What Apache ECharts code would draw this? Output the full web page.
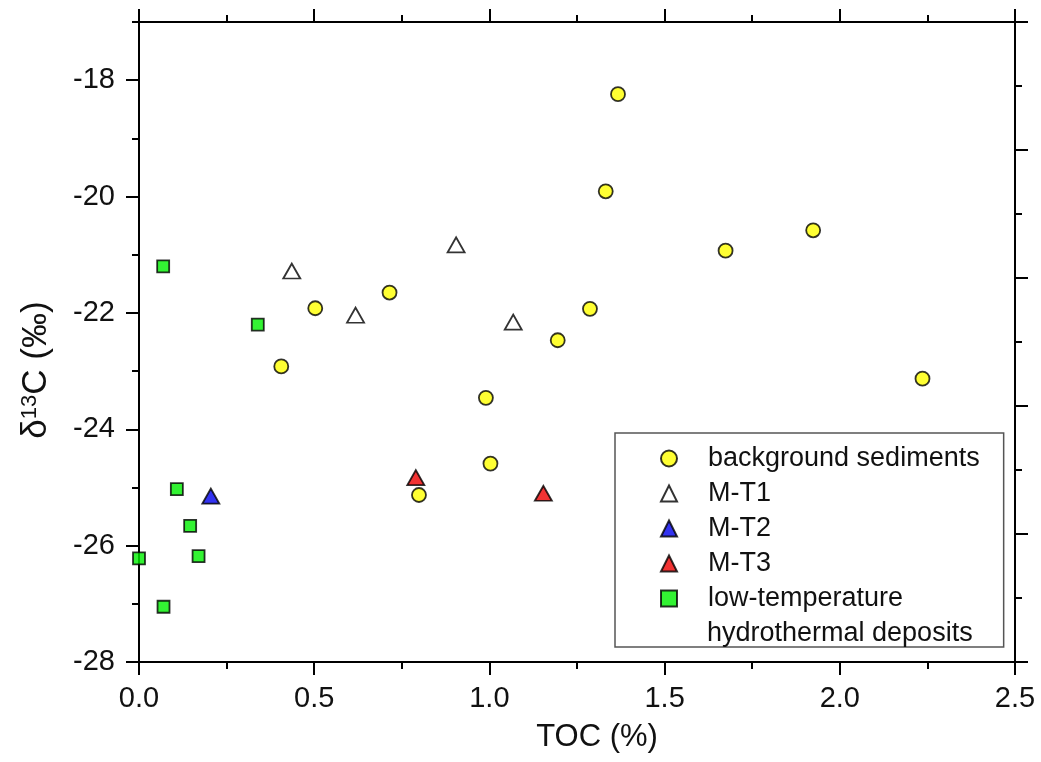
<!DOCTYPE html>
<html>
<head>
<meta charset="utf-8">
<script src="https://cdn.jsdelivr.net/npm/echarts@6/dist/echarts.min.js"></script>
<style>
	html, body { margin: 0; padding: 0; background: #fff; }
	#chart { width: 1041px; height: 762px; }
</style>
</head>
<body>
<div id="chart"></div>
<script>
// background sediments
var bgX = [0.406, 0.503, 0.715, 0.799, 0.990, 1.003, 1.195, 1.287, 1.332, 1.367, 1.674, 1.924, 2.236];
var bgY = [-22.92, -21.92, -21.65, -25.13, -23.46, -24.59, -22.47, -21.93, -19.91, -18.24, -20.93, -20.58, -23.13];
// M-T1, M-T2, M-T3
var mt1X = [0.436, 0.618, 0.905, 1.068];
var mt1Y = [-21.28, -22.04, -20.83, -22.16];
var mt2X = [0.205];
var mt2Y = [-25.15];
var mt3X = [0.790, 1.154];
var mt3Y = [-24.83, -25.10];
// low-temperature hydrothermal deposits
var lowX = [0.069, 0.339, 0.108, 0.146, 0.170, 0.000, 0.070];
var lowY = [-21.20, -22.20, -25.03, -25.66, -26.18, -26.22, -27.05];

var yMajor = [-28, -26, -24, -22, -20, -18];
var yMinor = [-27, -25, -23, -21, -19, -17];
var seriesNames = ['background sediments', 'M-T1', 'M-T2', 'M-T3', 'low-temperature'];

function pairs(xs, ys) {
	return xs.map(function(x, i) {
		return [x, ys[i]];
	});
}

var font = "'Liberation Sans', Arial, sans-serif";
var lineStyle = { color: '#000', width: 2 };

var chart = echarts.init(document.getElementById('chart'));
chart.setOption({
	backgroundColor: '#fff',
	animation: false,
	grid: { left: 139, right: 26, top: 22, bottom: 100 },
	legend: {
		orient: 'vertical',
		left: 615,
		top: 433,
		padding: [12, 24, 35, 45],
		itemWidth: 16,
		itemHeight: 16,
		itemGap: 8,
		borderColor: '#555',
		borderWidth: 1.5,
		backgroundColor: '#fff',
		textStyle: { fontFamily: font, fontSize: 27, color: '#111', padding: [0, 0, 0, 26] },
		data: seriesNames
	},
	xAxis: [{
		type: 'value',
		position: 'bottom',
		min: 0,
		max: 2.5,
		interval: 0.5,
		name: 'TOC (%)',
		nameLocation: 'middle',
		nameGap: 60,
		nameTextStyle: { fontFamily: font, fontSize: 31, color: '#111', padding: [0, 0, 0, 40] },
		axisLine: { onZero: false, lineStyle: lineStyle },
		axisTick: { length: 13, lineStyle: lineStyle },
		minorTick: { show: true, splitNumber: 2, length: 7, lineStyle: lineStyle },
		axisLabel: {
			margin: 22,
			fontFamily: font,
			fontSize: 29,
			color: '#111',
			formatter: function(v) {
				return v.toFixed(1);
			}
		},
		splitLine: { show: false }
	}, {
		type: 'value',
		position: 'top',
		min: 0,
		max: 2.5,
		interval: 0.5,
		axisLine: { onZero: false, lineStyle: lineStyle },
		axisTick: { length: 13, lineStyle: lineStyle },
		minorTick: { show: true, splitNumber: 2, length: 7, lineStyle: lineStyle },
		axisLabel: { show: false },
		splitLine: { show: false }
	}],
	yAxis: [{
		type: 'value',
		position: 'left',
		min: -28,
		max: -17,
		interval: 2,
		axisLine: { onZero: false, lineStyle: lineStyle },
		axisTick: { length: 13, customValues: yMajor, lineStyle: lineStyle },
		axisLabel: {
			margin: 24,
			fontFamily: font,
			fontSize: 29,
			color: '#111',
			customValues: yMajor,
			formatter: function(v) {
				return v === -17 ? '' : v;
			}
		},
		splitLine: { show: false }
	}, {
		type: 'value',
		position: 'left',
		min: -28,
		max: -17,
		interval: 1,
		axisLine: { show: false, onZero: false },
		axisTick: { length: 7, customValues: yMinor, lineStyle: lineStyle },
		axisLabel: { show: false },
		splitLine: { show: false }
	}, {
		type: 'value',
		position: 'right',
		min: 0,
		max: 10,
		interval: 2,
		axisLine: { onZero: false, lineStyle: lineStyle },
		axisTick: { length: 13, lineStyle: lineStyle },
		minorTick: { show: true, splitNumber: 2, length: 7, lineStyle: lineStyle },
		axisLabel: { show: false },
		splitLine: { show: false }
	}],
	graphic: [{
		type: 'text',
		x: 36,
		y: 370,
		rotation: Math.PI / 2,
		style: {
			text: 'δ{sup|13}C (‰)',
			fontFamily: font,
			fontSize: 35,
			fill: '#111',
			align: 'center',
			verticalAlign: 'middle',
			rich: {
				sup: { fontFamily: font, fontSize: 22, verticalAlign: 'top', padding: [0, 0, 13, 0] }
			}
		}
	}, {
		type: 'text',
		left: 707,
		top: 620,
		z: 100,
		style: {
			text: 'hydrothermal deposits',
			fontFamily: font,
			fontSize: 27,
			fill: '#111'
		}
	}],
	series: [{
		name: seriesNames[0],
		type: 'scatter',
		symbol: 'circle',
		symbolSize: 14,
		itemStyle: { color: '#ffff00', borderColor: '#000', borderWidth: 1.8 },
		data: pairs(bgX, bgY)
	}, {
		name: seriesNames[1],
		type: 'scatter',
		symbol: 'triangle',
		symbolSize: [17, 15],
		itemStyle: { color: '#fff', borderColor: '#000', borderWidth: 1.8 },
		data: pairs(mt1X, mt1Y)
	}, {
		name: seriesNames[2],
		type: 'scatter',
		symbol: 'triangle',
		symbolSize: [17, 15],
		itemStyle: { color: '#0000ee', borderColor: '#000', borderWidth: 1.8 },
		data: pairs(mt2X, mt2Y)
	}, {
		name: seriesNames[3],
		type: 'scatter',
		symbol: 'triangle',
		symbolSize: [17, 15],
		itemStyle: { color: '#ee0000', borderColor: '#000', borderWidth: 1.8 },
		data: pairs(mt3X, mt3Y)
	}, {
		name: seriesNames[4],
		type: 'scatter',
		symbol: 'rect',
		symbolSize: 12,
		itemStyle: { color: '#00f000', borderColor: '#000', borderWidth: 1.8 },
		data: pairs(lowX, lowY)
	}]
});
</script>
</body>
</html>
